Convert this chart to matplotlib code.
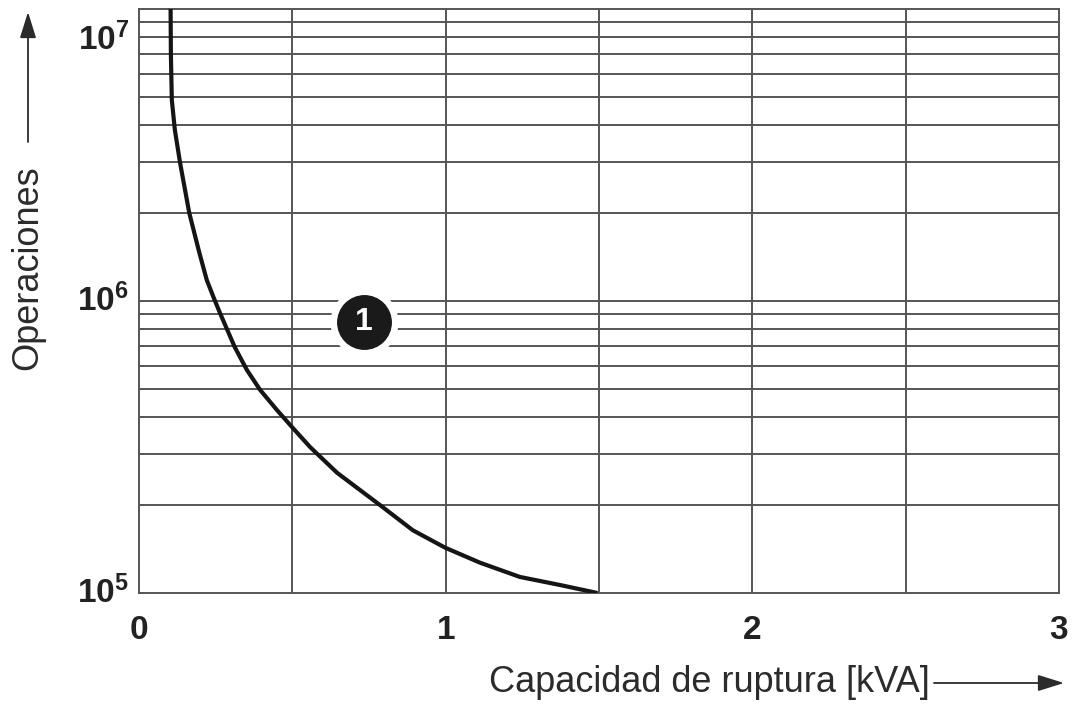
"""Curva de vida eléctrica: operaciones vs capacidad de ruptura (kVA)."""

import matplotlib

matplotlib.use("Agg")
import matplotlib.pyplot as plt

plt.rcParams["font.family"] = ["Liberation Sans", "DejaVu Sans"]
plt.rcParams["mathtext.fontset"] = "custom"
plt.rcParams["mathtext.rm"] = "Liberation Sans"
plt.rcParams["mathtext.bf"] = "Liberation Sans:bold"

# curva
kva = [0.103, 0.104, 0.107, 0.117, 0.134, 0.164, 0.197, 0.221, 0.243, 0.264,
       0.312, 0.352, 0.395, 0.450, 0.499, 0.558, 0.646, 0.786, 0.893, 0.998,
       1.112, 1.242, 1.373, 1.495]
ops = [1.0e7, 7.0e6, 4.88e6, 3.85e6, 2.97e6, 2.0e6, 1.46e6, 1.18e6, 1.03e6, 9.1e5,
       6.96e5, 5.8e5, 4.96e5, 4.23e5, 3.7e5, 3.16e5, 2.58e5, 2.0e5, 1.64e5, 1.43e5,
       1.27e5, 1.135e5, 1.065e5, 1.0e5]

x_ticks = [0, 1, 2, 3]
x_grid = [0.5, 1.0, 1.5, 2.0, 2.5]
y_ticks = [1e5, 1e6, 1e7]
y_tick_labels = [r"$\mathbf{10^{5}}$", r"$\mathbf{10^{6}}$", r"$\mathbf{10^{7}}$"]
y_grid = [m * 10 ** d for d in (5, 6) for m in range(2, 11)][:-1]

marker_pos = (0.733, 8.5e5)
marker_text = "1"

GRID = "#555555"
TXT = "#2b2b2b"

fig = plt.figure(figsize=(10.76, 7.06), dpi=100)
ax = fig.add_axes([139 / 1076, (706 - 593) / 706, 920 / 1076, 584 / 706])
ax.set_yscale("log")
ax.set_xlim(0, 3)
ax.set_ylim(1e5, 1e7)

for xv in x_grid:
    ax.axvline(xv, color=GRID, lw=1.4, zorder=1)
for yv in y_grid:
    ax.axhline(yv, color=GRID, lw=1.4, zorder=1)
for s in ax.spines.values():
    s.set_color(GRID)
    s.set_linewidth(1.4)

ax.plot(kva, ops, color="#151515", lw=3.0, zorder=3, solid_joinstyle="round",
        solid_capstyle="butt")

# marcador "1" con halo blanco que corta la rejilla
ax.plot(*marker_pos, "o", ms=48, color="white", zorder=4)
ax.plot(*marker_pos, "o", ms=38.5, color="#1a1a1a", zorder=5)
ax.text(*marker_pos, marker_text, color="white", fontsize=23, fontweight="bold",
        ha="center", va="center", zorder=6)

ax.set_xticks(x_ticks)
ax.set_xticklabels([str(t) for t in x_ticks], fontsize=24, fontweight="bold", color="#222")
ax.tick_params(axis="x", length=0, pad=16)
ax.set_yticks([])
ax.set_yticks([], minor=True)

# etiquetas del eje Y (la de 10^7 va algo más abajo, como en el original)
for yv, lab, dy in zip(y_ticks, y_tick_labels, (0, 0, -31)):
    ax.annotate(lab, xy=(0, yv), xycoords=("axes fraction", "data"),
                xytext=(-10, dy), textcoords="offset pixels",
                ha="right", va="center", fontsize=24, color="#222", annotation_clip=False)

# títulos de ejes con flechas
fig.text(489 / 1076, 1 - 683 / 706, "Capacidad de ruptura [kVA]", fontsize=26,
         color=TXT, ha="left", va="center")
ax.annotate("", xy=(1064, 706 - 683), xycoords="figure pixels",
            xytext=(934, 706 - 683), textcoords="figure pixels",
            arrowprops=dict(arrowstyle="-|>,head_length=1.6,head_width=0.5",
                            color=TXT, lw=1.3, shrinkA=0, shrinkB=0))
fig.text(28 / 1076, 1 - 268 / 706, "Operaciones", fontsize=26, color=TXT,
         rotation=90, ha="center", va="center")
ax.annotate("", xy=(28, 706 - 12), xycoords="figure pixels",
            xytext=(28, 706 - 142), textcoords="figure pixels",
            arrowprops=dict(arrowstyle="-|>,head_length=1.6,head_width=0.5",
                            color=TXT, lw=1.3, shrinkA=0, shrinkB=0))

fig.savefig("out.png", dpi=100)
